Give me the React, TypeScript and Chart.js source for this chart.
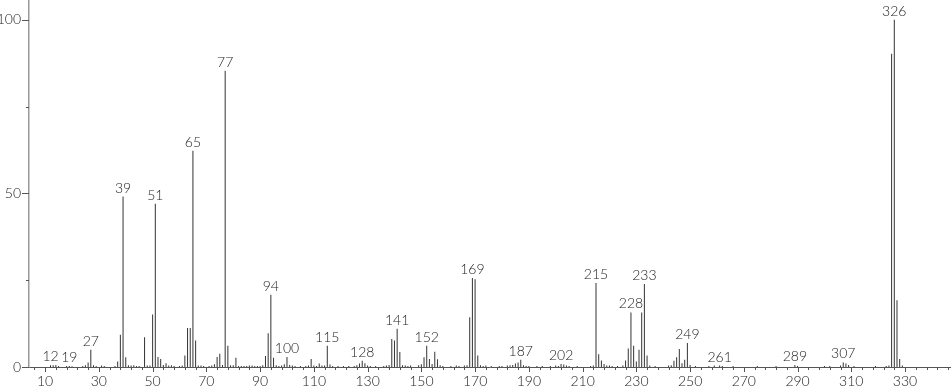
import React, { useEffect, useRef } from "react";
import { Chart, registerables } from "chart.js";
Chart.register(...registerables);

// m/z values and relative intensities
const mzValues = [
  12, 13, 14, 15, 18, 19, 20, 24, 25, 26, 27, 28, 29, 31, 32, 36, 37, 38, 39, 40,
  41, 42, 43, 44, 45, 47, 48, 49, 50, 51, 52, 53, 54, 55, 56, 57, 58, 60, 61, 62,
  63, 64, 65, 66, 67, 68, 69, 71, 72, 73, 74, 75, 76, 77, 78, 79, 80, 81, 82, 83,
  84, 85, 86, 87, 88, 89, 90, 91, 92, 93, 94, 95, 96, 97, 98, 99, 100, 101, 102, 103,
  105, 107, 108, 109, 110, 111, 112, 113, 114, 115, 116, 117, 119, 121, 123, 125, 126, 127, 128, 129,
  130, 131, 133, 136, 137, 138, 139, 140, 141, 142, 143, 144, 145, 146, 149, 150, 151, 152, 153, 154,
  155, 156, 157, 158, 161, 163, 164, 166, 167, 168, 169, 170, 171, 172, 173, 174, 176, 179, 180, 182,
  183, 184, 185, 186, 187, 188, 189, 190, 193, 195, 198, 200, 201, 202, 203, 204, 205, 208, 213, 214,
  215, 216, 217, 218, 219, 220, 221, 223, 225, 226, 227, 228, 229, 230, 231, 232, 233, 234, 235, 237,
  242, 243, 244, 245, 246, 247, 248, 249, 250, 252, 257, 259, 261, 262, 266, 275, 282, 289, 290, 300,
  302, 306, 307, 308, 309, 311, 319, 323, 324, 325, 326, 327, 328, 329,
];
const intensities = [
  0.5, 0.5, 0.6, 0.3, 0.3, 0.3, 0.2, 0.3, 0.5, 1.3, 5.0, 0.5, 0.3, 0.4, 0.3, 0.3, 1.6, 9.3, 49.1, 2.8,
  0.5, 0.4, 0.5, 0.3, 0.3, 8.6, 0.4, 0.4, 15.1, 47.0, 2.9, 2.3, 0.6, 1.1, 0.4, 0.5, 0.3, 0.3, 0.4, 3.3,
  11.2, 11.2, 62.3, 7.6, 0.4, 0.4, 0.3, 0.3, 0.4, 0.8, 2.9, 3.8, 0.6, 85.3, 6.1, 0.5, 0.5, 2.7, 0.3, 0.3,
  0.3, 0.3, 0.4, 0.4, 0.3, 0.3, 0.3, 0.5, 3.2, 9.7, 20.8, 2.7, 0.5, 0.3, 0.4, 0.8, 2.9, 0.6, 0.4, 0.3,
  0.3, 0.3, 0.4, 2.3, 0.4, 0.3, 1.0, 0.4, 0.4, 6.1, 0.7, 0.3, 0.3, 0.3, 0.3, 0.3, 0.5, 1.0, 1.8, 1.1,
  0.4, 0.3, 0.3, 0.3, 0.4, 0.6, 8.1, 7.6, 11.0, 4.3, 0.5, 0.4, 0.3, 0.4, 0.5, 0.8, 2.8, 6.1, 2.3, 0.9,
  4.4, 2.2, 0.5, 0.3, 0.3, 0.4, 0.3, 0.4, 0.5, 14.3, 25.6, 25.3, 3.3, 0.5, 0.3, 0.4, 0.3, 0.3, 0.3, 0.4,
  0.5, 0.6, 1.0, 1.3, 2.1, 0.5, 0.3, 0.3, 0.3, 0.3, 0.3, 0.4, 0.3, 0.9, 0.7, 0.4, 0.3, 0.3, 0.3, 0.4,
  24.2, 3.7, 1.9, 0.9, 0.4, 0.4, 0.3, 0.3, 0.4, 1.9, 5.3, 15.7, 6.1, 1.6, 5.0, 15.7, 23.9, 3.3, 0.4, 0.3,
  0.4, 0.5, 1.8, 2.8, 5.2, 1.1, 2.1, 6.9, 0.6, 0.3, 0.3, 0.4, 0.4, 0.3, 0.3, 0.3, 0.3, 0.6, 0.3, 0.3,
  0.3, 0.4, 1.3, 1.0, 0.6, 0.3, 0.3, 0.3, 0.4, 90.2, 100, 19.2, 2.3, 0.4,
];
const labeledPeaks = [12, 19, 27, 39, 51, 65, 77, 94, 100, 115, 128, 141, 152, 169, 187, 202, 215, 228, 233, 249, 261, 289, 307, 326];
const xTickLabels = [10, 30, 50, 70, 90, 110, 130, 150, 170, 190, 210, 230, 250, 270, 290, 310, 330];
const yTickLabels = [0, 50, 100];
const yMinorTicks = [25, 75];

const FONT = "Lato, 'DejaVu Sans', sans-serif";

const decorPlugin = {
  id: "decor",
  afterDatasetsDraw(chart: any) {
    const ctx = chart.ctx;
    const xs = chart.scales.x;
    const ys = chart.scales.y;
    const area = chart.chartArea;
    ctx.save();
    // peak labels
    ctx.fillStyle = "#222";
    ctx.font = `300 14px ${FONT}`;
    ctx.textAlign = "center";
    ctx.textBaseline = "alphabetic";
    labeledPeaks.forEach((m) => {
      const i = mzValues.indexOf(m);
      const v = i >= 0 ? intensities[i] : 0;
      const px = xs.getPixelForValue(m);
      const py = ys.getPixelForValue(v);
      ctx.fillText(String(m), px, py - 4);
    });
    // x ticks (major every 20, minor every 4)
    ctx.strokeStyle = "#555";
    ctx.lineWidth = 1;
    for (let v = 6; v <= xs.max; v += 4) {
      const px = Math.round(xs.getPixelForValue(v)) + 0.5;
      const major = xTickLabels.includes(v);
      ctx.beginPath();
      ctx.moveTo(px, area.bottom);
      ctx.lineTo(px, area.bottom + (major ? 5 : 3));
      ctx.stroke();
    }
    // y ticks
    yTickLabels.forEach((v) => {
      const py = Math.round(ys.getPixelForValue(v)) + 0.5;
      ctx.beginPath();
      ctx.moveTo(area.left - 7, py);
      ctx.lineTo(area.left, py);
      ctx.stroke();
    });
    yMinorTicks.forEach((v) => {
      const py = Math.round(ys.getPixelForValue(v)) + 0.5;
      ctx.beginPath();
      ctx.moveTo(area.left - 3, py);
      ctx.lineTo(area.left, py);
      ctx.stroke();
    });
    ctx.restore();
  },
};

export default function App() {
  const ref = useRef<HTMLCanvasElement | null>(null);
  useEffect(() => {
    if (!ref.current) return;
    const chart = new Chart(ref.current, {
      type: "bar",
      data: {
        datasets: [
          {
            data: mzValues.map((m, i) => ({ x: m, y: intensities[i] })),
            backgroundColor: "#333",
            borderWidth: 0,
            barThickness: 1,
            inflateAmount: 0,
          },
        ],
      },
      options: {
        animation: false,
        responsive: false,
        maintainAspectRatio: false,
        layout: { padding: 0 },
        plugins: { legend: { display: false }, tooltip: { enabled: false } },
        scales: {
          x: {
            type: "linear",
            min: 4,
            max: 347.1,
            offset: false,
            grid: { display: false, drawTicks: false },
            border: { display: true, color: "#555", width: 1 },
            afterBuildTicks: (s: any) => {
              s.ticks = xTickLabels.map((v) => ({ value: v }));
            },
            afterFit: (s: any) => {
              s.height = 22;
              s.paddingLeft = 0;
              s.paddingRight = 0;
            },
            ticks: {
              autoSkip: false,
              maxRotation: 0,
              padding: 6,
              color: "#222",
              font: { family: FONT, size: 14, weight: "300" },
            },
          },
          y: {
            type: "linear",
            min: 0,
            max: 105.7,
            grid: { display: false, drawTicks: false },
            border: { display: true, color: "#999", width: 1.5 },
            afterBuildTicks: (s: any) => {
              s.ticks = yTickLabels.map((v) => ({ value: v }));
            },
            afterFit: (s: any) => {
              s.width = 29;
              s.paddingTop = 0;
              s.paddingBottom = 0;
            },
            ticks: {
              padding: 8,
              color: "#222",
              font: { family: FONT, size: 14, weight: "300" },
            },
          },
        },
      },
      plugins: [decorPlugin],
    } as any);
    return () => chart.destroy();
  }, []);
  return (
    <div style={{ position: "absolute", left: 0, top: 0, width: 951, height: 389, background: "#fff" }}>
      <canvas ref={ref} width={951} height={389} />
    </div>
  );
}
